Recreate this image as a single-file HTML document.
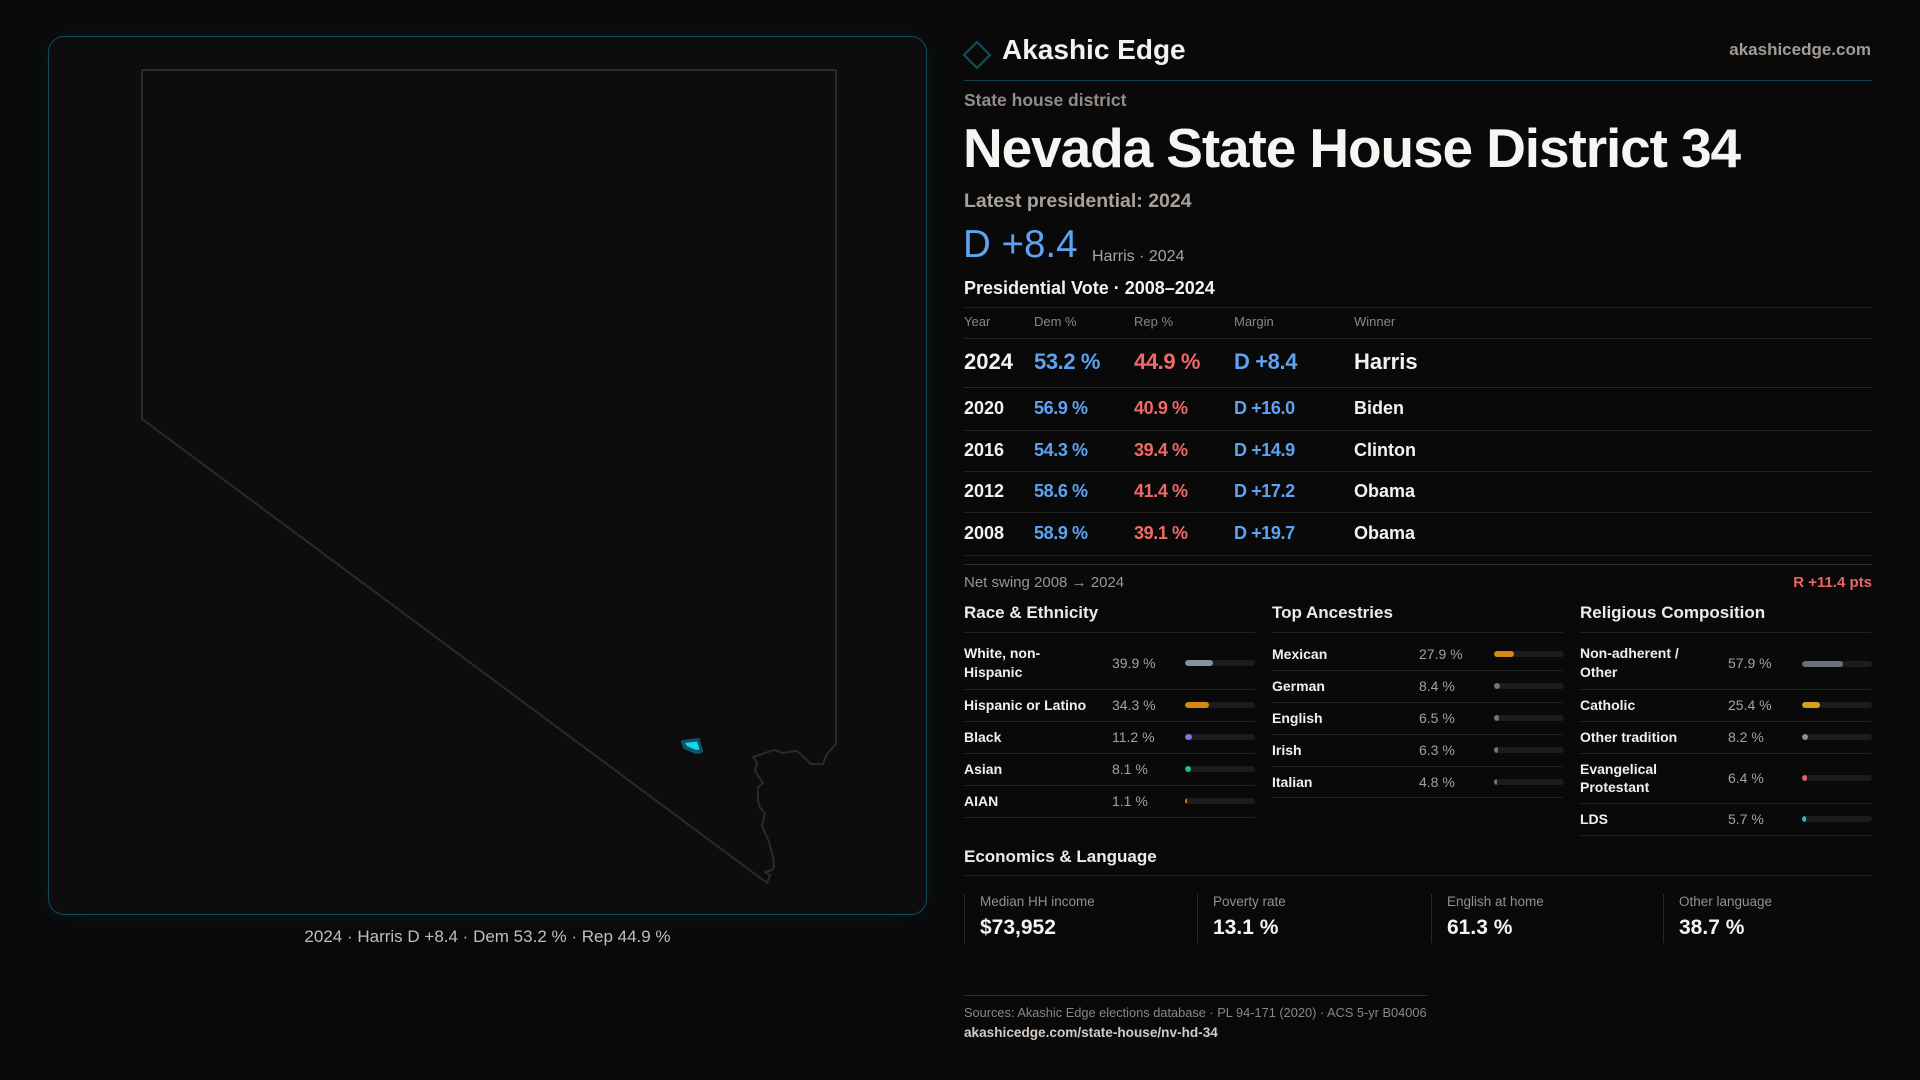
<!DOCTYPE html>
<html>
<head>
<meta charset="utf-8">
<style>
  html,body{margin:0;padding:0;}
  body{width:1920px;height:1080px;background:#0a0909;overflow:hidden;position:relative;font-family:"Liberation Sans",sans-serif;color:#f4f2ef;}
  .t{position:absolute;white-space:nowrap;}
  .hl{position:absolute;height:1px;}
  .panel{position:absolute;left:48px;top:36px;width:877px;height:877px;border:1px solid #0f4b58;border-radius:16px;background:#0e0d0e;box-shadow:0 0 26px rgba(0,160,200,0.10);}
  .hd{font-size:13px;line-height:16px;color:#8d8680;}
  .yr{font-weight:bold;}
  .dem{color:#5ea3f2;font-weight:bold;letter-spacing:-0.4px;}
  .rep{color:#f06868;font-weight:bold;letter-spacing:-0.4px;}
  .sec{font-size:17px;line-height:20px;font-weight:bold;color:#eeeae6;}
  .lab{font-size:14px;line-height:18px;font-weight:bold;color:#f2efec;}
  .val{font-size:14px;line-height:18px;color:#a8a09a;}
  .track{position:absolute;width:70px;height:6px;border-radius:3px;background:#1c1b1e;overflow:hidden;}
  .fill{position:absolute;left:0;top:0;height:6px;border-radius:3px;}
  .rl{position:absolute;height:1px;width:291px;background:#222122;}
  .card{position:absolute;top:894px;height:49px;border-left:1px solid #29282a;}
  .cl{position:absolute;left:15px;top:0px;font-size:13.5px;line-height:16px;color:#978f89;white-space:nowrap;}
  .cv{position:absolute;left:15px;top:22px;font-size:21px;line-height:24px;font-weight:bold;color:#f6f4f1;white-space:nowrap;}
</style>
</head>
<body>

<div class="panel"></div>

<svg width="1920" height="1080" style="position:absolute;left:0;top:0" xmlns="http://www.w3.org/2000/svg">
  <path d="M142,70 L836,70 L836,744 L827,754 L823,764 L811,764 L797,751 L783,753 L774,750 L753,757 L757,763 L755,771 L763,783 L758,787 L758,800 L760,808 L765,813 L762,826 L769,842 L773,857 L774,867 L772,870 L765,872 L770,875 L767,883 L142,419 Z" fill="none" stroke="#2b2a2a" stroke-width="2" stroke-linejoin="round"/>
  <polygon points="683,742 698,740 701,751 696,752 685,747" fill="#0c5566" stroke="#0c5566" stroke-width="4" stroke-linejoin="round"/>
  <polygon points="685,743 697,741.5 699.5,749.5 696,750 687,746" fill="#18d6f5"/>
  <polygon points="977,42 990,55 977,68 964,55" fill="none" stroke="#11525e" stroke-width="2"/>
</svg>

<div class="t" style="left:48px;width:879px;text-align:center;top:926px;font-size:17px;line-height:22px;color:#c6beb6;">2024 · Harris D +8.4 · Dem 53.2 % · Rep 44.9 %</div>

<!-- header -->
<div class="t" style="left:1002px;top:33px;font-size:28px;line-height:34px;font-weight:bold;color:#f4f2ef;">Akashic Edge</div>
<div class="t" style="right:49px;top:40px;font-size:17px;line-height:20px;font-weight:bold;color:#a39b94;">akashicedge.com</div>
<div class="hl" style="left:964px;top:80px;width:908px;background:#12404a;"></div>

<div class="t" style="left:964px;top:90px;font-size:17.5px;line-height:20px;font-weight:bold;color:#948d87;">State house district</div>
<div class="t" style="left:963px;top:116px;font-size:55px;line-height:64px;font-weight:bold;letter-spacing:-1.1px;color:#f7f5f2;">Nevada State House District 34</div>
<div class="t" style="left:964px;top:190px;font-size:19.5px;line-height:22px;font-weight:bold;color:#a8a19b;">Latest presidential: 2024</div>
<div class="t" style="left:963px;top:223px;font-size:38.5px;line-height:44px;color:#5ea3f2;">D +8.4</div>
<div class="t" style="left:1092px;top:248px;font-size:16px;line-height:18px;color:#aaa39c;">Harris · 2024</div>
<div class="t" style="left:964px;top:277px;font-size:18px;line-height:22px;font-weight:bold;color:#f4f2ef;">Presidential Vote · 2008–2024</div>

<!-- table lines -->
<div class="hl" style="left:964px;top:307px;width:908px;background:#222122;"></div>
<div class="hl" style="left:964px;top:338px;width:908px;background:#252425;"></div>
<div class="hl" style="left:964px;top:387px;width:908px;background:#2a292a;"></div>
<div class="hl" style="left:964px;top:430px;width:908px;background:#222122;"></div>
<div class="hl" style="left:964px;top:471px;width:908px;background:#222122;"></div>
<div class="hl" style="left:964px;top:512px;width:908px;background:#222122;"></div>
<div class="hl" style="left:964px;top:555px;width:908px;background:#222122;"></div>
<div class="hl" style="left:964px;top:564px;width:908px;background:#2d2c2d;"></div>

<!-- table headers -->
<div class="t hd" style="left:964px;top:314px;">Year</div>
<div class="t hd" style="left:1034px;top:314px;">Dem %</div>
<div class="t hd" style="left:1134px;top:314px;">Rep %</div>
<div class="t hd" style="left:1234px;top:314px;">Margin</div>
<div class="t hd" style="left:1354px;top:314px;">Winner</div>

<!-- 2024 row -->
<div class="t yr" style="left:964px;top:349px;font-size:22px;line-height:26px;">2024</div>
<div class="t dem" style="left:1034px;top:349px;font-size:22px;line-height:26px;">53.2 %</div>
<div class="t rep" style="left:1134px;top:349px;font-size:22px;line-height:26px;">44.9 %</div>
<div class="t dem" style="left:1234px;top:349px;font-size:22px;line-height:26px;">D +8.4</div>
<div class="t yr" style="left:1354px;top:349px;font-size:22px;line-height:26px;">Harris</div>

<!-- 2020 -->
<div class="t yr" style="left:964px;top:397px;font-size:18px;line-height:22px;">2020</div>
<div class="t dem" style="left:1034px;top:397px;font-size:18px;line-height:22px;">56.9 %</div>
<div class="t rep" style="left:1134px;top:397px;font-size:18px;line-height:22px;">40.9 %</div>
<div class="t dem" style="left:1234px;top:397px;font-size:18px;line-height:22px;">D +16.0</div>
<div class="t yr" style="left:1354px;top:397px;font-size:18px;line-height:22px;">Biden</div>
<!-- 2016 -->
<div class="t yr" style="left:964px;top:439px;font-size:18px;line-height:22px;">2016</div>
<div class="t dem" style="left:1034px;top:439px;font-size:18px;line-height:22px;">54.3 %</div>
<div class="t rep" style="left:1134px;top:439px;font-size:18px;line-height:22px;">39.4 %</div>
<div class="t dem" style="left:1234px;top:439px;font-size:18px;line-height:22px;">D +14.9</div>
<div class="t yr" style="left:1354px;top:439px;font-size:18px;line-height:22px;">Clinton</div>
<!-- 2012 -->
<div class="t yr" style="left:964px;top:480px;font-size:18px;line-height:22px;">2012</div>
<div class="t dem" style="left:1034px;top:480px;font-size:18px;line-height:22px;">58.6 %</div>
<div class="t rep" style="left:1134px;top:480px;font-size:18px;line-height:22px;">41.4 %</div>
<div class="t dem" style="left:1234px;top:480px;font-size:18px;line-height:22px;">D +17.2</div>
<div class="t yr" style="left:1354px;top:480px;font-size:18px;line-height:22px;">Obama</div>
<!-- 2008 -->
<div class="t yr" style="left:964px;top:522px;font-size:18px;line-height:22px;">2008</div>
<div class="t dem" style="left:1034px;top:522px;font-size:18px;line-height:22px;">58.9 %</div>
<div class="t rep" style="left:1134px;top:522px;font-size:18px;line-height:22px;">39.1 %</div>
<div class="t dem" style="left:1234px;top:522px;font-size:18px;line-height:22px;">D +19.7</div>
<div class="t yr" style="left:1354px;top:522px;font-size:18px;line-height:22px;">Obama</div>

<div class="t" style="left:964px;top:574px;font-size:15px;line-height:18px;color:#9d968f;">Net swing 2008 → 2024</div>
<div class="t" style="right:48px;top:574px;font-size:15px;line-height:18px;font-weight:bold;color:#ef6464;">R +11.4 pts</div>

<!-- Race & Ethnicity -->
<div class="t sec" style="left:964px;top:603px;">Race &amp; Ethnicity</div>
<div class="rl" style="left:964px;top:632px;"></div>
<div class="t lab" style="left:964px;top:644px;line-height:19px;white-space:normal;width:130px;">White, non-<br>Hispanic</div>
<div class="t val" style="left:1112px;top:654px;">39.9 %</div>
<div class="track" style="left:1185px;top:660px;"><div class="fill" style="width:28px;background:#8791a3;"></div></div>
<div class="rl" style="left:964px;top:689px;"></div>
<div class="t lab" style="left:964px;top:696px;">Hispanic or Latino</div>
<div class="t val" style="left:1112px;top:696px;">34.3 %</div>
<div class="track" style="left:1185px;top:702px;"><div class="fill" style="width:24px;background:#d88a10;"></div></div>
<div class="rl" style="left:964px;top:721px;"></div>
<div class="t lab" style="left:964px;top:728px;">Black</div>
<div class="t val" style="left:1112px;top:728px;">11.2 %</div>
<div class="track" style="left:1185px;top:734px;"><div class="fill" style="width:7px;background:#8b6fe0;"></div></div>
<div class="rl" style="left:964px;top:753px;"></div>
<div class="t lab" style="left:964px;top:760px;">Asian</div>
<div class="t val" style="left:1112px;top:760px;">8.1 %</div>
<div class="track" style="left:1185px;top:766px;"><div class="fill" style="width:6px;background:#1fbf85;"></div></div>
<div class="rl" style="left:964px;top:785px;"></div>
<div class="t lab" style="left:964px;top:792px;">AIAN</div>
<div class="t val" style="left:1112px;top:792px;">1.1 %</div>
<div class="track" style="left:1185px;top:798px;"><div class="fill" style="width:1.5px;border-radius:0;background:#d07a20;"></div></div>
<div class="rl" style="left:964px;top:817px;"></div>

<!-- Top Ancestries -->
<div class="t sec" style="left:1272px;top:603px;">Top Ancestries</div>
<div class="rl" style="left:1272px;top:632px;"></div>
<div class="t lab" style="left:1272px;top:645px;">Mexican</div>
<div class="t val" style="left:1419px;top:645px;">27.9 %</div>
<div class="track" style="left:1494px;top:651px;"><div class="fill" style="width:19.5px;background:#d88a10;"></div></div>
<div class="rl" style="left:1272px;top:670px;"></div>
<div class="t lab" style="left:1272px;top:677px;">German</div>
<div class="t val" style="left:1419px;top:677px;">8.4 %</div>
<div class="track" style="left:1494px;top:683px;"><div class="fill" style="width:6px;background:#6e7686;"></div></div>
<div class="rl" style="left:1272px;top:702px;"></div>
<div class="t lab" style="left:1272px;top:709px;">English</div>
<div class="t val" style="left:1419px;top:709px;">6.5 %</div>
<div class="track" style="left:1494px;top:715px;"><div class="fill" style="width:4.5px;background:#6e7686;"></div></div>
<div class="rl" style="left:1272px;top:734px;"></div>
<div class="t lab" style="left:1272px;top:741px;">Irish</div>
<div class="t val" style="left:1419px;top:741px;">6.3 %</div>
<div class="track" style="left:1494px;top:747px;"><div class="fill" style="width:4.4px;background:#6e7686;"></div></div>
<div class="rl" style="left:1272px;top:766px;"></div>
<div class="t lab" style="left:1272px;top:773px;">Italian</div>
<div class="t val" style="left:1419px;top:773px;">4.8 %</div>
<div class="track" style="left:1494px;top:779px;"><div class="fill" style="width:3.4px;background:#6e7686;"></div></div>
<div class="rl" style="left:1272px;top:797px;"></div>

<!-- Religious Composition -->
<div class="t sec" style="left:1580px;top:603px;">Religious Composition</div>
<div class="rl" style="left:1580px;top:632px;"></div>
<div class="t lab" style="left:1580px;top:644px;line-height:19px;white-space:normal;width:125px;">Non-adherent /<br>Other</div>
<div class="t val" style="left:1728px;top:654px;">57.9 %</div>
<div class="track" style="left:1802px;top:661px;"><div class="fill" style="width:40.5px;background:#6a6f7c;"></div></div>
<div class="rl" style="left:1580px;top:689px;"></div>
<div class="t lab" style="left:1580px;top:696px;">Catholic</div>
<div class="t val" style="left:1728px;top:696px;">25.4 %</div>
<div class="track" style="left:1802px;top:702px;"><div class="fill" style="width:17.8px;background:#d4a418;"></div></div>
<div class="rl" style="left:1580px;top:721px;"></div>
<div class="t lab" style="left:1580px;top:728px;">Other tradition</div>
<div class="t val" style="left:1728px;top:728px;">8.2 %</div>
<div class="track" style="left:1802px;top:734px;"><div class="fill" style="width:5.7px;background:#8a8e96;"></div></div>
<div class="rl" style="left:1580px;top:753px;"></div>
<div class="t lab" style="left:1580px;top:760px;line-height:18px;white-space:normal;width:125px;">Evangelical<br>Protestant</div>
<div class="t val" style="left:1728px;top:769px;">6.4 %</div>
<div class="track" style="left:1802px;top:775px;"><div class="fill" style="width:4.5px;background:#e06262;"></div></div>
<div class="rl" style="left:1580px;top:803px;"></div>
<div class="t lab" style="left:1580px;top:810px;">LDS</div>
<div class="t val" style="left:1728px;top:810px;">5.7 %</div>
<div class="track" style="left:1802px;top:816px;"><div class="fill" style="width:4px;background:#1fc0b0;"></div></div>
<div class="rl" style="left:1580px;top:835px;"></div>

<!-- Economics -->
<div class="t sec" style="left:964px;top:847px;">Economics &amp; Language</div>
<div class="hl" style="left:964px;top:875px;width:908px;background:#222122;"></div>
<div class="card" style="left:964px;width:232px;"><div class="cl">Median HH income</div><div class="cv">$73,952</div></div>
<div class="card" style="left:1197px;width:233px;"><div class="cl">Poverty rate</div><div class="cv">13.1 %</div></div>
<div class="card" style="left:1431px;width:231px;"><div class="cl">English at home</div><div class="cv">61.3 %</div></div>
<div class="card" style="left:1663px;width:209px;"><div class="cl">Other language</div><div class="cv">38.7 %</div></div>

<!-- Sources -->
<div class="hl" style="left:964px;top:995px;width:463px;background:#17343c;"></div>
<div class="t" style="left:964px;top:1005px;font-size:12.8px;line-height:16px;color:#8c857f;">Sources: Akashic Edge elections database · PL 94-171 (2020) · ACS 5-yr B04006</div>
<div class="t" style="left:964px;top:1025px;font-size:13.6px;line-height:16px;font-weight:bold;color:#d2cbc5;">akashicedge.com/state-house/nv-hd-34</div>

</body>
</html>
